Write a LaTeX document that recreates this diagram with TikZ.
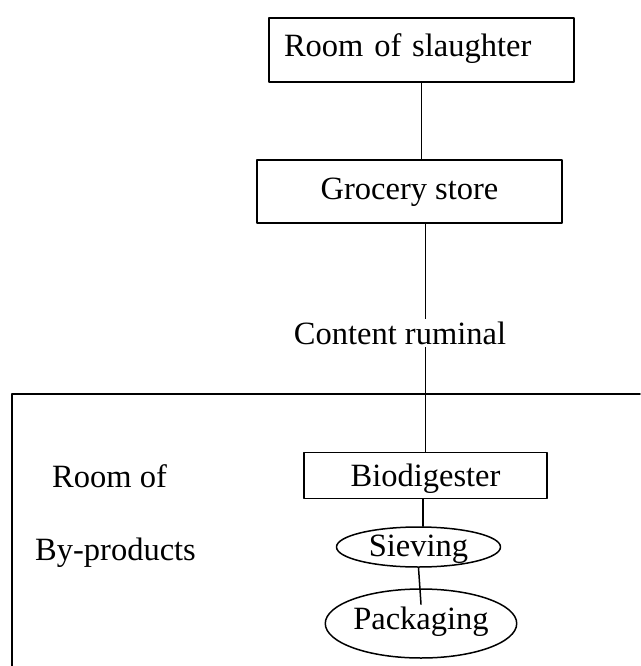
\documentclass[tikz,border=0pt]{standalone}
\usepackage{fontspec}
\setmainfont{Liberation Serif}
\usetikzlibrary{shapes.geometric}

\begin{document}
\begin{tikzpicture}[
    x=1pt, y=-1pt,
    line join=round, line cap=round,
    txt/.style={font=\fontsize{32.5}{39}\selectfont, inner sep=0pt, text height=22pt},
    roomC/.style={txt, draw, rectangle, line width=1.5pt},
    procC/.style={txt, draw, ellipse, line width=1.5pt},
    link/.style={line width=1.5pt},
  ]
  \useasboundingbox (0,0) rectangle (640,666);

  % ---------- upper rooms ----------
  \node[roomC, minimum width=305pt, minimum height=64pt, text depth=9pt,
        text width=275pt, align=left, inner xsep=15pt] (slaughter) at (421.5,50) {Room of slaughter};
  \node[roomC, minimum width=305pt, minimum height=63pt, text depth=7pt] (grocery) at (409.5,191.5) {Grocery store};

  % ---------- by-products room (frame runs off the page) ----------
  \draw[link] (640,394) -- (12,394) -- (12,666);
  \node[txt, anchor=base west] (roomof) at (52,487) {Room of};
  \node[txt, anchor=base west] (byprod) at (35,560) {By-products};

  \node[roomC, minimum width=243pt, minimum height=46pt, text depth=1pt] (biodig) at (425.5,475.5) {Biodigester};
  \node[procC, minimum width=164pt, minimum height=40pt, text depth=4pt] (sieving) at (418.5,547) {Sieving};
  \node[procC, minimum width=186pt, minimum height=69pt, text depth=11pt] (packaging) at (421,623.5) {Packaging};

  % ---------- connectors ----------
  \draw[link] (slaughter.south) -- (slaughter.south |- grocery.north);
  \draw[link] (biodig.north |- grocery.south) -- (biodig.north);
  \draw[link] (biodig.south -| 423,0) -- (sieving.north -| 423,0);
  \draw[link] (sieving.south) -- ([yshift=-16pt]packaging.north);

  % label sits on the line, white behind it
  \node[txt, fill=white, inner sep=3pt, text depth=0pt] (content) at (400,333) {Content ruminal};

\end{tikzpicture}
\end{document}
